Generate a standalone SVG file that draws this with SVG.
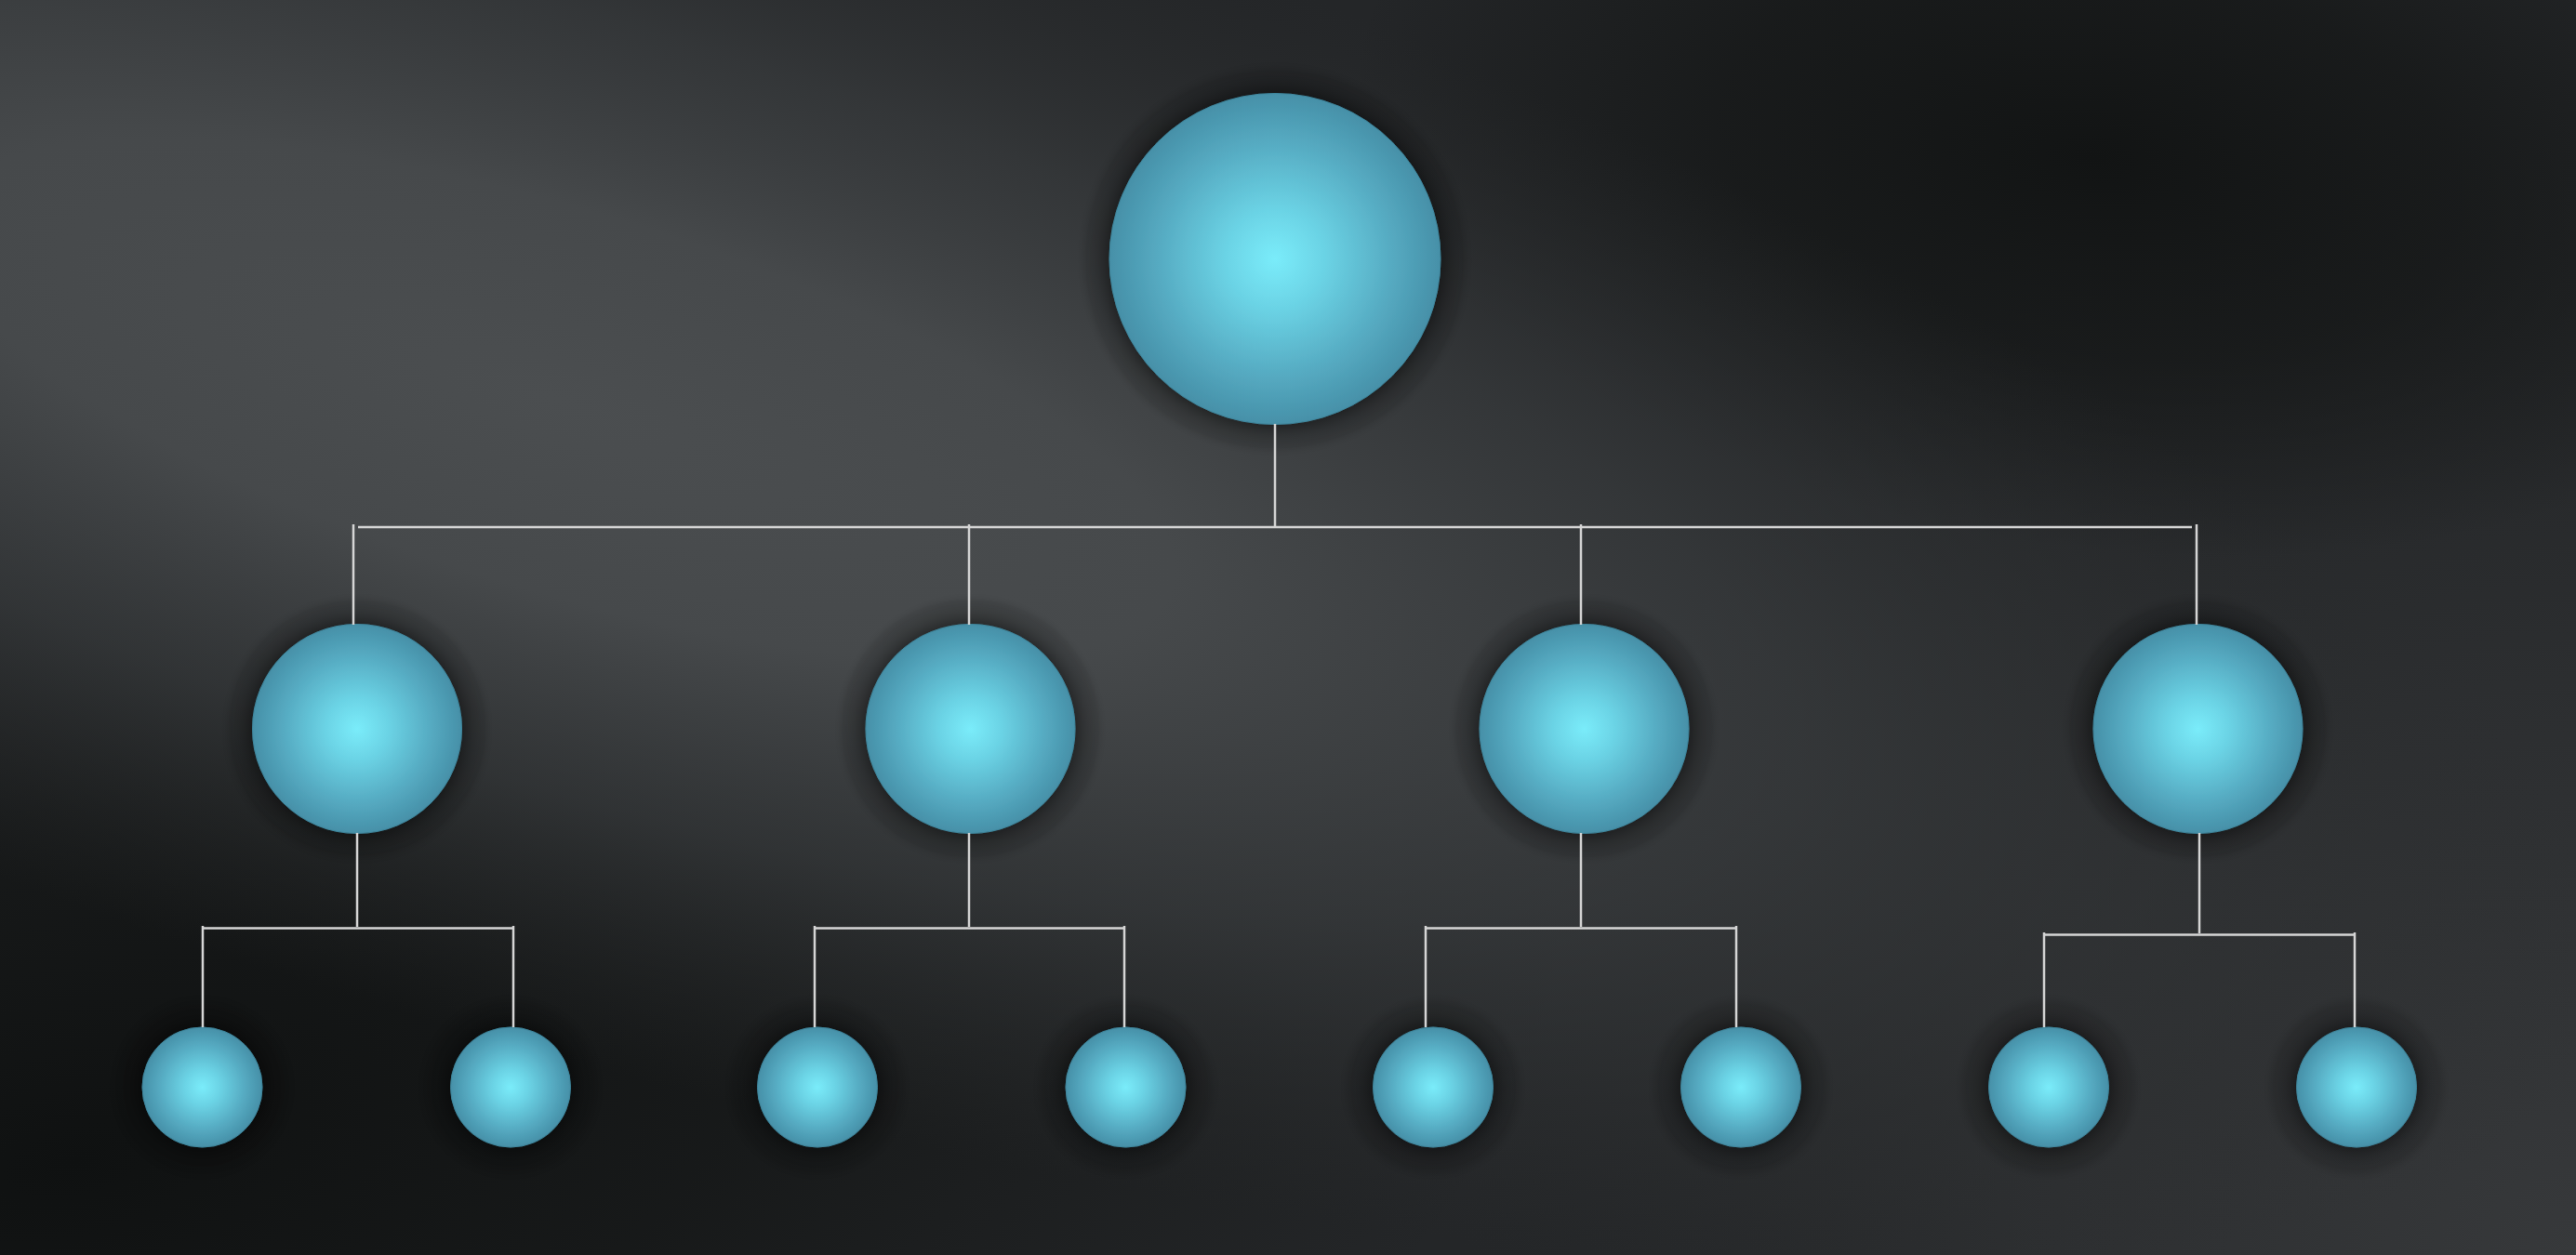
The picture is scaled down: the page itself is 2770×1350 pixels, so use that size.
<svg xmlns="http://www.w3.org/2000/svg" width="2770" height="1350" viewBox="0 0 2770 1350">
  <defs>
    <radialGradient id="bgLight" gradientUnits="userSpaceOnUse" cx="0" cy="0" r="1" gradientTransform="translate(600,430) rotate(17) scale(2300,680)">
      <stop offset="0" stop-color="#4b4e50" stop-opacity="1"/>
      <stop offset="0.3" stop-color="#46494b" stop-opacity="1"/>
      <stop offset="0.6" stop-color="#3a3d3f" stop-opacity="0.7"/>
      <stop offset="1" stop-color="#2a2c2d" stop-opacity="0"/>
    </radialGradient>
    <radialGradient id="bgBR" gradientUnits="userSpaceOnUse" cx="2770" cy="1350" r="1200">
      <stop offset="0" stop-color="#37393b" stop-opacity="1"/>
      <stop offset="0.5" stop-color="#323436" stop-opacity="0.6"/>
      <stop offset="1" stop-color="#2a2c2d" stop-opacity="0"/>
    </radialGradient>
    <radialGradient id="bgTR" gradientUnits="userSpaceOnUse" cx="0" cy="0" r="1" gradientTransform="translate(2250,170) rotate(8) scale(800,420)">
      <stop offset="0" stop-color="#121414" stop-opacity="1"/>
      <stop offset="0.5" stop-color="#151717" stop-opacity="0.75"/>
      <stop offset="1" stop-color="#151717" stop-opacity="0"/>
    </radialGradient>
    <radialGradient id="bgBL" gradientUnits="userSpaceOnUse" cx="0" cy="0" r="1" gradientTransform="translate(80,1250) rotate(-14) scale(1650,820)">
      <stop offset="0" stop-color="#0f1111" stop-opacity="1"/>
      <stop offset="0.45" stop-color="#141616" stop-opacity="0.8"/>
      <stop offset="1" stop-color="#161818" stop-opacity="0"/>
    </radialGradient>
    <radialGradient id="ball" cx="0.5" cy="0.5" r="0.5">
      <stop offset="0" stop-color="#7aecfa"/>
      <stop offset="0.3" stop-color="#6bd3e5"/>
      <stop offset="0.7" stop-color="#56abc2"/>
      <stop offset="1" stop-color="#4690a8"/>
    </radialGradient>
    <filter id="glow" x="-40%" y="-40%" width="180%" height="180%">
      <feDropShadow dx="0" dy="0" stdDeviation="13" flood-color="#000" flood-opacity="0.7"/>
    </filter>
    <filter id="soft" x="-20%" y="-20%" width="140%" height="140%">
      <feGaussianBlur stdDeviation="3"/>
    </filter>
  </defs>
  <style>
    .node { fill: url(#ball); stroke: #3f879e; stroke-width: 1; filter: url(#glow); }
    .halo { fill: #000; opacity: 0.1; filter: url(#soft); }
    .link { stroke: #d6d6d6; stroke-width: 2.5; fill: none; }
  </style>

  <rect x="0" y="0" width="2770" height="1350" fill="#242628"/>
  <rect x="0" y="0" width="2770" height="1350" fill="url(#bgBR)"/>
  <rect x="0" y="0" width="2770" height="1350" fill="url(#bgTR)"/>
  <rect x="0" y="0" width="2770" height="1350" fill="url(#bgBL)"/>
  <rect x="0" y="0" width="2770" height="1350" fill="url(#bgLight)"/>

  <g id="node-root">
    <circle class="halo" cx="1371" cy="278.5" r="206"/>
    <circle class="node" cx="1371" cy="278.5" r="178"/>
  </g>

  <g id="node-l2-1">
    <circle class="halo" cx="384" cy="784" r="140"/>
    <circle class="node" cx="384" cy="784" r="112.5"/>
  </g>
  <g id="node-l2-2">
    <circle class="halo" cx="1043.5" cy="784" r="140"/>
    <circle class="node" cx="1043.5" cy="784" r="112.5"/>
  </g>
  <g id="node-l2-3">
    <circle class="halo" cx="1703.5" cy="784" r="140"/>
    <circle class="node" cx="1703.5" cy="784" r="112.5"/>
  </g>
  <g id="node-l2-4">
    <circle class="halo" cx="2363.5" cy="784" r="140"/>
    <circle class="node" cx="2363.5" cy="784" r="112.5"/>
  </g>

  <g id="node-l3-1">
    <circle class="halo" cx="217.5" cy="1169.5" r="94"/>
    <circle class="node" cx="217.5" cy="1169.5" r="64.5"/>
  </g>
  <g id="node-l3-2">
    <circle class="halo" cx="549" cy="1169.5" r="94"/>
    <circle class="node" cx="549" cy="1169.5" r="64.5"/>
  </g>
  <g id="node-l3-3">
    <circle class="halo" cx="879" cy="1169.5" r="94"/>
    <circle class="node" cx="879" cy="1169.5" r="64.5"/>
  </g>
  <g id="node-l3-4">
    <circle class="halo" cx="1210.5" cy="1169.5" r="94"/>
    <circle class="node" cx="1210.5" cy="1169.5" r="64.5"/>
  </g>
  <g id="node-l3-5">
    <circle class="halo" cx="1541" cy="1169.5" r="94"/>
    <circle class="node" cx="1541" cy="1169.5" r="64.5"/>
  </g>
  <g id="node-l3-6">
    <circle class="halo" cx="1872" cy="1169.5" r="94"/>
    <circle class="node" cx="1872" cy="1169.5" r="64.5"/>
  </g>
  <g id="node-l3-7">
    <circle class="halo" cx="2203" cy="1169.5" r="94"/>
    <circle class="node" cx="2203" cy="1169.5" r="64.5"/>
  </g>
  <g id="node-l3-8">
    <circle class="halo" cx="2534" cy="1169.5" r="94"/>
    <circle class="node" cx="2534" cy="1169.5" r="64.5"/>
  </g>

  <g id="connectors">
    <line class="link" x1="1371" y1="456" x2="1371" y2="566"/>
    <line class="link" x1="385" y1="567" x2="2357" y2="567"/>
    <line class="link" x1="380" y1="564" x2="380" y2="672"/>
    <line class="link" x1="1042" y1="564" x2="1042" y2="672"/>
    <line class="link" x1="1700" y1="564" x2="1700" y2="672"/>
    <line class="link" x1="2362" y1="564" x2="2362" y2="672"/>

    <line class="link" x1="384" y1="896" x2="384" y2="997"/>
    <line class="link" x1="1042" y1="896" x2="1042" y2="997"/>
    <line class="link" x1="1700" y1="896" x2="1700" y2="997"/>
    <line class="link" x1="2365" y1="896" x2="2365" y2="1004"/>

    <line class="link" x1="218" y1="998.5" x2="552" y2="998.5"/>
    <line class="link" x1="876" y1="998.5" x2="1209" y2="998.5"/>
    <line class="link" x1="1533" y1="998.5" x2="1867" y2="998.5"/>
    <line class="link" x1="2198" y1="1005.5" x2="2532" y2="1005.5"/>

    <line class="link" x1="218" y1="996" x2="218" y2="1105"/>
    <line class="link" x1="552" y1="996" x2="552" y2="1105"/>
    <line class="link" x1="876" y1="996" x2="876" y2="1105"/>
    <line class="link" x1="1209" y1="996" x2="1209" y2="1105"/>
    <line class="link" x1="1533" y1="996" x2="1533" y2="1105"/>
    <line class="link" x1="1867" y1="996" x2="1867" y2="1105"/>
    <line class="link" x1="2198" y1="1003" x2="2198" y2="1105"/>
    <line class="link" x1="2532" y1="1003" x2="2532" y2="1105"/>
  </g>
</svg>
